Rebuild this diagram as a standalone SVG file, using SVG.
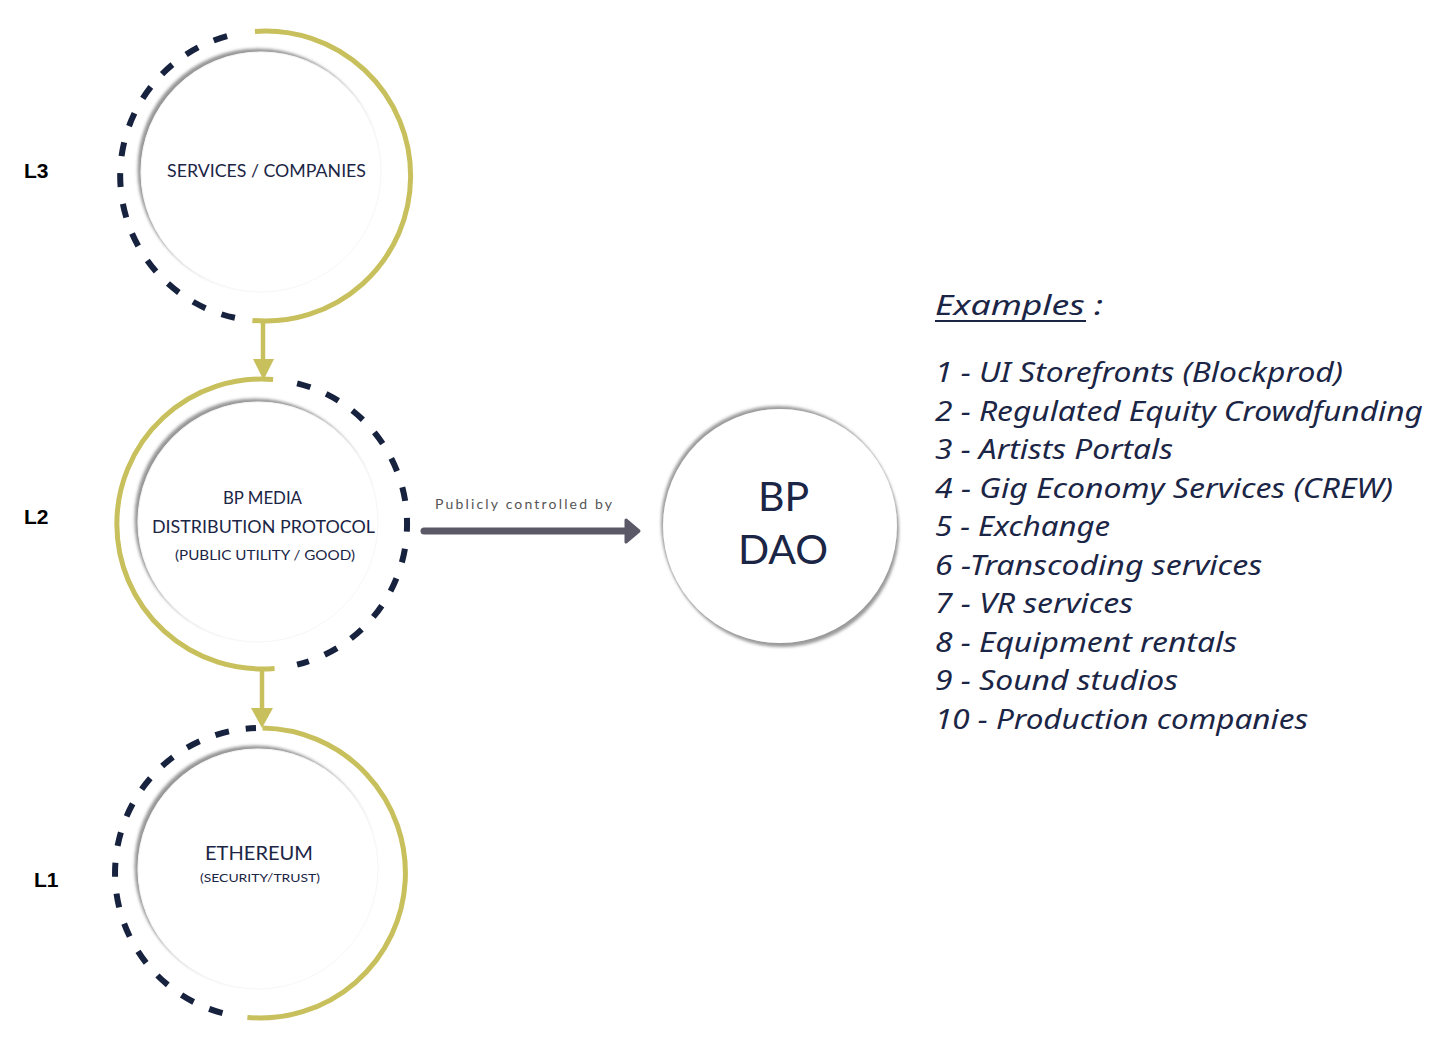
<svg xmlns="http://www.w3.org/2000/svg" width="1444" height="1040" viewBox="0 0 1444 1040">
  <defs>
    <filter id="innerShadow" x="-20%" y="-20%" width="140%" height="140%">
      <feDropShadow dx="-3" dy="-3" stdDeviation="1.5" flood-color="#8a8a8a" flood-opacity="0.9"/>
    </filter>
    <filter id="daoShadow" x="-20%" y="-20%" width="140%" height="140%">
      <feGaussianBlur in="SourceAlpha" stdDeviation="1.6" result="b"/>
      <feOffset in="b" dx="-2" dy="-3" result="o1"/>
      <feOffset in="b" dx="2" dy="4" result="o2"/>
      <feMerge result="m"><feMergeNode in="o1"/><feMergeNode in="o2"/></feMerge>
      <feFlood flood-color="#8f8f8f" flood-opacity="0.9"/>
      <feComposite in2="m" operator="in" result="s"/>
      <feMerge><feMergeNode in="s"/><feMergeNode in="SourceGraphic"/></feMerge>
    </filter>
    <style>
      .gold { fill: none; stroke: #c8c05c; stroke-width: 5; }
      .dash { fill: none; stroke: #17223f; stroke-width: 6; stroke-dasharray: 14 17; }
      .inner { fill: #ffffff; stroke: #f6f6f6; stroke-width: 1; filter: url(#innerShadow); }
      .node { font-family: "Lato", "Noto Sans", sans-serif; fill: #1b2545; text-anchor: middle; }
      .lvl { font-family: "Liberation Sans", Arial, sans-serif; font-weight: bold; font-size: 21px; fill: #000; }
      .ex { font-family: "Noto Sans", "Open Sans", sans-serif; font-style: italic; font-size: 28px; fill: #1b2545; }
      .conn { stroke: #c8c05c; stroke-width: 4.5; fill: none; }
      .head { fill: #c8c05c; }
    </style>
  </defs>

  <rect width="1444" height="1040" fill="#ffffff"/>

  <!-- Level labels -->
  <g id="labels">
    <text class="lvl" x="24" y="178">L3</text>
    <text class="lvl" x="24" y="524">L2</text>
    <text class="lvl" x="34" y="887">L1</text>
  </g>

  <!-- L3 node -->
  <g id="node-services">
    <path class="gold" d="M 254.9 31.4 A 145 145 0 1 1 252.4 320.4"/>
    <path class="dash" d="M 234.9 317.8 A 145 145 0 0 1 234.9 34.2"/>
    <circle class="inner" cx="261" cy="172" r="120"/>
    <text class="node" x="266.5" y="177" font-size="17" textLength="199" lengthAdjust="spacingAndGlyphs">SERVICES / COMPANIES</text>
  </g>

  <!-- L2 node -->
  <g id="node-protocol">
    <path class="gold" d="M 273.1 379.4 A 145 145 0 1 0 274.6 668.4"/>
    <path class="dash" d="M 297.1 383.3 A 145 145 0 0 1 297.1 664.7"/>
    <circle class="inner" cx="258" cy="522" r="120"/>
    <text class="node" x="262.5" y="504" font-size="17" textLength="79" lengthAdjust="spacingAndGlyphs">BP MEDIA</text>
    <text class="node" x="263.5" y="533" font-size="17" textLength="223" lengthAdjust="spacingAndGlyphs">DISTRIBUTION PROTOCOL</text>
    <text class="node" x="265" y="560" font-size="13" textLength="180" lengthAdjust="spacingAndGlyphs">(PUBLIC UTILITY / GOOD)</text>
  </g>

  <!-- L1 node -->
  <g id="node-ethereum">
    <path class="gold" d="M 262.5 728 A 145 145 0 1 1 247.4 1017.4"/>
    <path class="dash" d="M 222.5 1013.1 A 145 145 0 0 1 256 728.1"/>
    <circle class="inner" cx="258" cy="869" r="120"/>
    <text class="node" x="259" y="860" font-size="20" textLength="108" lengthAdjust="spacingAndGlyphs">ETHEREUM</text>
    <text class="node" x="260" y="882" font-size="12" textLength="120" lengthAdjust="spacingAndGlyphs">(SECURITY/TRUST)</text>
  </g>

  <!-- DAO node -->
  <g id="node-dao">
    <circle cx="780" cy="526" r="117" fill="#ffffff" filter="url(#daoShadow)"/>
    <text class="node" x="783.5" y="511" font-size="41">BP</text>
    <text class="node" x="783" y="564" font-size="41">DAO</text>
  </g>

  <!-- Connectors -->
  <g id="connectors">
    <line class="conn" x1="263" y1="321" x2="263" y2="362"/>
    <polygon class="head" points="253,359 274,359 263.5,380"/>
    <line class="conn" x1="262" y1="669" x2="262" y2="711"/>
    <polygon class="head" points="251,708 273,708 262,728"/>
    <line x1="424" y1="531" x2="628" y2="531" stroke="#5b5968" stroke-width="7" stroke-linecap="round"/>
    <polygon points="626,520 639,531 626,542" fill="#5b5968" stroke="#5b5968" stroke-width="3" stroke-linejoin="round"/>
    <text x="435" y="509" font-family="Lato, 'Noto Sans', sans-serif" font-size="14" fill="#555555" textLength="177" lengthAdjust="spacing">Publicly controlled by</text>
  </g>

  <!-- Examples list -->
  <g id="examples">
    <text class="ex" x="935" y="315" font-size="34" textLength="168" lengthAdjust="spacingAndGlyphs">Examples :</text>
    <line x1="935" y1="321" x2="1086" y2="321" stroke="#1b2545" stroke-width="2"/>
    <text class="ex" x="935" y="382" textLength="408" lengthAdjust="spacingAndGlyphs">1 - UI Storefronts (Blockprod)</text>
    <text class="ex" x="935" y="420.5" textLength="488" lengthAdjust="spacingAndGlyphs">2 - Regulated Equity Crowdfunding</text>
    <text class="ex" x="935" y="459" textLength="238" lengthAdjust="spacingAndGlyphs">3 - Artists Portals</text>
    <text class="ex" x="935" y="497.5" textLength="458" lengthAdjust="spacingAndGlyphs">4 - Gig Economy Services (CREW)</text>
    <text class="ex" x="935" y="536" textLength="175" lengthAdjust="spacingAndGlyphs">5 - Exchange</text>
    <text class="ex" x="935" y="574.5" textLength="327" lengthAdjust="spacingAndGlyphs">6 -Transcoding services</text>
    <text class="ex" x="935" y="613" textLength="198" lengthAdjust="spacingAndGlyphs">7 - VR services</text>
    <text class="ex" x="935" y="651.5" textLength="302" lengthAdjust="spacingAndGlyphs">8 - Equipment rentals</text>
    <text class="ex" x="935" y="690" textLength="243" lengthAdjust="spacingAndGlyphs">9 - Sound studios</text>
    <text class="ex" x="935" y="728.5" textLength="373" lengthAdjust="spacingAndGlyphs">10 - Production companies</text>
  </g>
</svg>
